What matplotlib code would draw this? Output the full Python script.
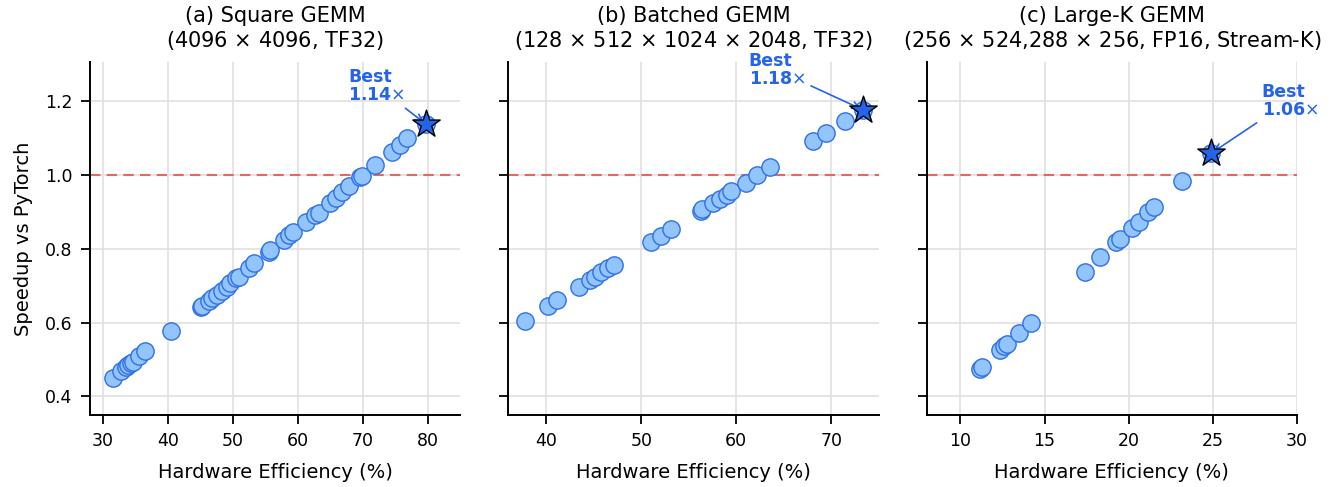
import matplotlib.pyplot as plt

# (a) Square GEMM
sq_eff = [31.6, 32.8, 33.6, 33.9, 34.3, 34.6, 35.6, 36.5, 40.5, 45.1, 45.3, 46.3,
          46.8, 47.5, 48.3, 49.1, 49.6, 50.5, 50.9, 52.4, 53.2, 55.5, 55.7, 57.8,
          58.6, 59.3, 61.3, 62.7, 63.2, 64.9, 65.8, 66.8, 67.9, 69.6, 69.9, 71.9,
          74.5, 75.7, 76.8, 79.7]
sq_spd = [0.451, 0.468, 0.479, 0.486, 0.490, 0.494, 0.510, 0.522, 0.576, 0.643,
          0.645, 0.659, 0.666, 0.675, 0.684, 0.697, 0.708, 0.720, 0.724, 0.747,
          0.760, 0.792, 0.796, 0.823, 0.837, 0.846, 0.873, 0.891, 0.897, 0.924,
          0.938, 0.954, 0.969, 0.993, 0.997, 1.025, 1.062, 1.080, 1.098, 1.137]

# (b) Batched GEMM
bt_eff = [37.7, 40.2, 41.1, 43.4, 44.6, 45.1, 45.8, 46.5, 47.1, 51.0, 52.1, 53.1,
          56.3, 56.4, 57.6, 58.3, 59.0, 59.5, 61.0, 62.2, 63.6, 68.1, 69.5, 71.5,
          73.4]
bt_spd = [0.605, 0.645, 0.661, 0.697, 0.715, 0.724, 0.738, 0.747, 0.756, 0.818,
          0.834, 0.852, 0.903, 0.907, 0.923, 0.934, 0.945, 0.956, 0.978, 0.999,
          1.020, 1.092, 1.114, 1.146, 1.175]

# (c) Large-K GEMM
lk_eff = [11.17, 11.29, 12.36, 12.62, 12.78, 13.46, 14.21, 17.41, 18.28, 19.27,
          19.47, 20.21, 20.63, 21.17, 21.50, 23.19, 24.90]
lk_spd = [0.475, 0.479, 0.526, 0.537, 0.542, 0.573, 0.600, 0.737, 0.777, 0.819,
          0.826, 0.855, 0.872, 0.900, 0.913, 0.983, 1.058]

titles = ["(a) Square GEMM\n(4096 $\\times$ 4096, TF32)",
          "(b) Batched GEMM\n(128 $\\times$ 512 $\\times$ 1024 $\\times$ 2048, TF32)",
          "(c) Large-K GEMM\n(256 $\\times$ 524,288 $\\times$ 256, FP16, Stream-K)"]
best_labels = ["Best\n1.14$\\times$", "Best\n1.18$\\times$", "Best\n1.06$\\times$"]
text_pos = [(67.7, 1.192), (61.3, 1.234), (27.9, 1.152)]
xlims = [(28, 85), (36, 75), (8, 30)]
xticks = [[30, 40, 50, 60, 70, 80], [40, 50, 60, 70], [10, 15, 20, 25, 30]]

fig, axes = plt.subplots(1, 3, figsize=(13.32, 4.87), dpi=100, sharey=True)
fig.subplots_adjust(left=0.0676, right=0.9737, top=0.8727, bottom=0.148, wspace=0.13)

data = [(sq_eff, sq_spd), (bt_eff, bt_spd), (lk_eff, lk_spd)]
for i, ax in enumerate(axes):
    eff, spd = data[i]
    ax.set_axisbelow(True)
    ax.grid(True, color="#e0e0e0", linewidth=1.2)
    ax.axhline(1.0, color="#e8504a", alpha=0.85, linestyle=(0, (5, 3)), linewidth=1.5, zorder=2)
    ax.scatter(eff, spd, s=155, color="#93c5fd", edgecolor="#2f6fe8", linewidth=1.0, zorder=3)
    bx, by = eff[-1], spd[-1]
    ax.scatter([bx], [by], marker="*", s=430, color="#2563eb", edgecolor="black",
               linewidth=1.0, zorder=4)
    ax.annotate(best_labels[i], xy=(bx, by), xytext=text_pos[i], ha="left", va="bottom",
                color="#2563eb", fontsize=12.5, fontweight="bold", linespacing=1.0,
                arrowprops=dict(arrowstyle="->", color="#2563eb", lw=1.2))
    ax.set_title(titles[i], fontsize=15, linespacing=1.15, pad=11)
    ax.set_xlabel("Hardware Efficiency (%)", fontsize=14, labelpad=9)
    ax.set_xlim(xlims[i])
    ax.set_xticks(xticks[i])
    ax.tick_params(labelsize=12.5, width=1.3, length=6.5, pad=6)
    for s in ["top", "right"]:
        ax.spines[s].set_visible(False)
    for s in ["left", "bottom"]:
        ax.spines[s].set_linewidth(1.4)

axes[0].set_ylim(0.35, 1.305)
axes[0].set_yticks([0.4, 0.6, 0.8, 1.0, 1.2])
axes[0].set_ylabel("Speedup vs PyTorch", fontsize=14, labelpad=9)

fig.savefig("out.png")
